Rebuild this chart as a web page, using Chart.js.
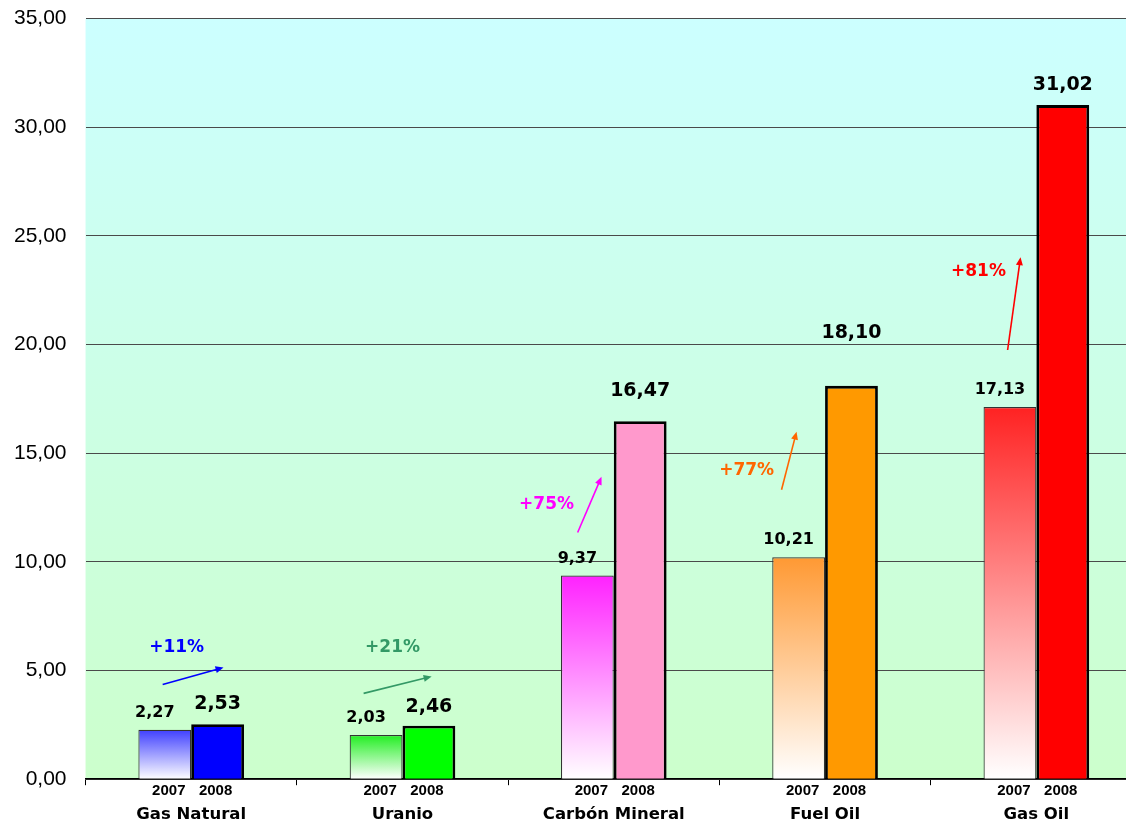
<!DOCTYPE html>
<html>
<head>
<meta charset="utf-8">
<style>
  html, body { margin: 0; padding: 0; overflow: hidden; background: #fff; }
  #chart { display: block; margin-left: -19px; margin-top: -13px; }
</style>
</head>
<body>
<canvas id="chart" width="1161" height="858"></canvas>
<script src="https://cdn.jsdelivr.net/npm/chart.js"></script>
<script>
const categories = ['Gas Natural', 'Uranio', 'Carbón Mineral', 'Fuel Oil', 'Gas Oil'];
const years = ['2007', '2008'];
const values2007 = [2.27, 2.03, 9.37, 10.21, 17.13];
const values2008 = [2.53, 2.46, 16.47, 18.10, 31.02];
const changes = ['+11%', '+21%', '+75%', '+77%', '+81%'];
const yTicks = [0, 5, 10, 15, 20, 25, 30, 35];

// colores
const top2007 = ['#4040ff', '#22ee22', '#ff22ff', '#ff9933', '#ff2222'];
const solid2008 = ['#0000ff', '#00ff00', '#ff99cc', '#ff9900', '#ff0000'];
const changeColor = ['#0000ff', '#339966', '#ff00ff', '#ff6600', '#ff0000'];

// flechas: desde (dx, valor) hasta (dx, valor), dx en fraccion de categoria
const arrowFrom = [[-0.135, 4.36], [-0.184, 3.95], [-0.171, 11.35], [-0.206, 13.32], [-0.136, 19.75]];
const arrowTo = [[0.153, 5.14], [0.138, 4.73], [-0.058, 13.92], [-0.135, 15.99], [-0.075, 24.02]];
const changePos = [[-0.069, 6.06], [-0.047, 6.06], [-0.318, 12.63], [-0.371, 14.19], [-0.274, 23.34]];
// separacion de las etiquetas 2008 sobre la barra (px)
const lift2008 = [20, 19, 30, 53, 20];

const fmt = v => v.toFixed(2).replace('.', ',');

function grad2007(c) {
  const chart = c.chart;
  const i = c.dataIndex;
  if (!chart.chartArea || !chart.scales.y || i === undefined) return top2007[i || 0];
  const y = chart.scales.y;
  const g = chart.ctx.createLinearGradient(0, y.getPixelForValue(values2007[i]), 0, y.getPixelForValue(0));
  g.addColorStop(0, top2007[i]);
  g.addColorStop(1, '#ffffff');
  return g;
}

function arrow(ctx, x0, y0, x1, y1, color) {
  const a = Math.atan2(y1 - y0, x1 - x0);
  const h = 8;
  ctx.strokeStyle = color;
  ctx.fillStyle = color;
  ctx.lineWidth = 1.6;
  ctx.beginPath();
  ctx.moveTo(x0, y0);
  ctx.lineTo(x1 - Math.cos(a) * h * 0.8, y1 - Math.sin(a) * h * 0.8);
  ctx.stroke();
  ctx.beginPath();
  ctx.moveTo(x1, y1);
  ctx.lineTo(x1 - h * Math.cos(a) + 3.5 * Math.sin(a), y1 - h * Math.sin(a) - 3.5 * Math.cos(a));
  ctx.lineTo(x1 - h * Math.cos(a) - 3.5 * Math.sin(a), y1 - h * Math.sin(a) + 3.5 * Math.cos(a));
  ctx.closePath();
  ctx.fill();
}

const decor = {
  id: 'decor',
  beforeDraw(chart) {
    const {ctx, chartArea: a} = chart;
    const g = ctx.createLinearGradient(0, a.top, 0, a.bottom);
    g.addColorStop(0, '#ccffff');
    g.addColorStop(1, '#ccffcc');
    ctx.save();
    ctx.fillStyle = g;
    ctx.fillRect(a.left, a.top, a.right - a.left, a.bottom - a.top);
    ctx.restore();
  },
  afterDraw(chart) {
    const {ctx} = chart;
    const x = chart.scales.x, y = chart.scales.y;
    const step = x.getPixelForValue(1) - x.getPixelForValue(0);
    ctx.save();
    ctx.textAlign = 'center';
    ctx.textBaseline = 'middle';
    const m0 = chart.getDatasetMeta(0), m1 = chart.getDatasetMeta(1);
    categories.forEach((c, i) => {
      const b0 = m0.data[i], b1 = m1.data[i];
      ctx.fillStyle = '#000';
      ctx.font = 'bold 16px "DejaVu Sans"';
      ctx.fillText(fmt(values2007[i]), b0.x - 10, b0.y - 17);
      ctx.font = 'bold 19px "DejaVu Sans"';
      ctx.fillText(fmt(values2008[i]), b1.x, b1.y - lift2008[i]);

      // años bajo cada barra
      ctx.font = 'bold 15px "Liberation Sans"';
      ctx.fillText(years[0], b0.x + 4, y.bottom + 12);
      ctx.fillText(years[1], b1.x - 2, y.bottom + 12);

      // flecha de variacion
      const cx = x.getPixelForValue(i);
      arrow(ctx,
        cx + arrowFrom[i][0] * step, y.getPixelForValue(arrowFrom[i][1]),
        cx + arrowTo[i][0] * step, y.getPixelForValue(arrowTo[i][1]),
        changeColor[i]);
      ctx.fillStyle = changeColor[i];
      ctx.font = 'bold 17px "DejaVu Sans"';
      ctx.fillText(changes[i], cx + changePos[i][0] * step, y.getPixelForValue(changePos[i][1]));
    });
    ctx.restore();
  }
};

Chart.defaults.font.family = '"DejaVu Sans"';
Chart.defaults.color = '#000';

new Chart(document.getElementById('chart'), {
  type: 'bar',
  data: {
    labels: categories,
    datasets: [
      {
        label: years[0],
        data: values2007,
        backgroundColor: grad2007,
        borderColor: '#333',
        borderWidth: 1.2,
        borderSkipped: 'start',
        categoryPercentage: 0.5,
        barPercentage: 1.0,
      },
      {
        label: years[1],
        data: values2008,
        backgroundColor: solid2008,
        borderColor: '#000',
        borderWidth: 2.8,
        borderSkipped: 'start',
        categoryPercentage: 0.5,
        barPercentage: 1.0,
      },
    ],
  },
  options: {
    responsive: false,
    animation: false,
    devicePixelRatio: 1,
    layout: {
      padding: {left: 14, top: 5, right: 0, bottom: 0},
    },
    plugins: {
      legend: {display: false},
      tooltip: {enabled: false},
    },
    scales: {
      x: {
        grid: {
          offset: true,
          drawOnChartArea: false,
          drawTicks: true,
          tickLength: 6,
          color: '#000',
        },
        border: {color: '#000', width: 1.5},
        ticks: {
          font: {weight: 'bold', size: 16.5},
          color: '#000',
          padding: 20,
          maxRotation: 0,
        },
      },
      y: {
        min: 0,
        max: 35,
        afterBuildTicks: axis => {
          axis.ticks = yTicks.map(v => ({value: v}));
        },
        grid: {color: '#4a4a4a', lineWidth: 1, drawTicks: false},
        border: {display: false},
        ticks: {
          callback: v => fmt(v),
          font: {family: '"Liberation Sans"', size: 21},
          color: '#000',
          padding: 19,
        },
      },
    },
  },
  plugins: [decor],
});
</script>
</body>
</html>
